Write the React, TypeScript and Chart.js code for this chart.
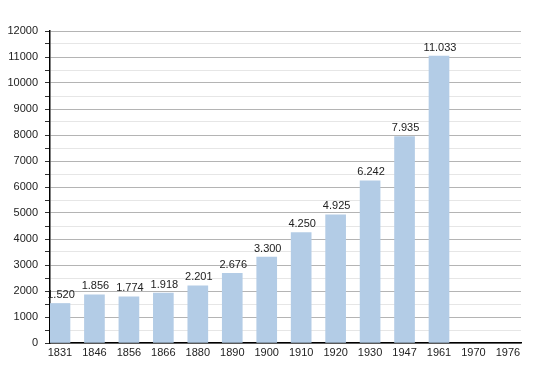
import React, { useEffect, useRef } from "react";
import { Chart, registerables } from "chart.js";
Chart.register(...registerables);

const years = ["1831", "1846", "1856", "1866", "1880", "1890", "1900", "1910", "1920", "1930", "1947", "1961", "1970", "1976"];
const population: (number | null)[] = [1520, 1856, 1774, 1918, 2201, 2676, 3300, 4250, 4925, 6242, 7935, 11033, null, null];
const yTickStep = 500;
const yMax = 12000;

const fmt = (v: number) => String(v).replace(/\B(?=(\d{3})+(?!\d))/g, ".");

const labelPlugin = {
  id: "barLabels",
  afterDatasetsDraw(chart: any) {
    const ctx = chart.ctx;
    const meta = chart.getDatasetMeta(0);
    ctx.save();
    ctx.font = "11px 'Liberation Sans', Arial, sans-serif";
    ctx.fillStyle = "#222";
    ctx.textAlign = "center";
    ctx.textBaseline = "bottom";
    meta.data.forEach((el: any, i: number) => {
      const v = population[i];
      if (v == null) return;
      ctx.fillText(fmt(v), el.x + 1, el.y - 3);
    });
    ctx.restore();
  },
};

export default function App() {
  const ref = useRef<HTMLCanvasElement>(null);
  useEffect(() => {
    document.body.style.margin = "0";
    const chart = new Chart(ref.current!, {
      type: "bar",
      data: {
        datasets: [
          {
            data: population.map((v, i) => ({ x: i, y: v })) as any,
            backgroundColor: "#b3cce6",
            borderWidth: 0,
            barThickness: 20,
          },
        ],
      },
      options: {
        animation: false,
        responsive: false,
        plugins: { legend: { display: false }, tooltip: { enabled: false } },
        layout: { padding: { top: 31, right: 29, left: 0, bottom: 0 } },
        scales: {
          x: {
            type: "linear",
            offset: false,
            min: -0.29,
            max: 13.38,
            afterBuildTicks: (s: any) => {
              s.ticks = years.map((_, i) => ({ value: i }));
            },
            afterFit: (s: any) => {
              s.height = 30;
            },
            grid: { display: false, drawTicks: false, offset: false },
            border: { display: true, color: "#000", width: 1.5 },
            ticks: {
              callback: (v: any) => years[v] ?? "",
              color: "#222",
              font: { family: "'Liberation Sans', Arial, sans-serif", size: 11 },
              padding: 3,
              maxRotation: 0,
              autoSkip: false,
            },
          },
          y: {
            min: 0,
            max: yMax,
            afterFit: (s: any) => {
              s.width = 50;
            },
            grid: {
              color: (c: any) => (c.tick && c.tick.value % 1000 === 0 ? "#b4b4b4" : "#e6e6e6"),
              tickColor: "#333",
              tickLength: 5,
            },
            border: { display: true, color: "#000", width: 1.5 },
            ticks: {
              stepSize: yTickStep,
              autoSkip: false,
              callback: (v: any) => (v % 1000 === 0 ? String(v) : ""),
              color: "#222",
              font: { family: "'Liberation Sans', Arial, sans-serif", size: 11 },
              padding: 7,
            },
          },
        },
      },
      plugins: [labelPlugin],
    });
    return () => chart.destroy();
  }, []);
  return (
    <div style={{ width: 550, height: 373 }}>
      <canvas ref={ref} width={550} height={373} />
    </div>
  );
}
